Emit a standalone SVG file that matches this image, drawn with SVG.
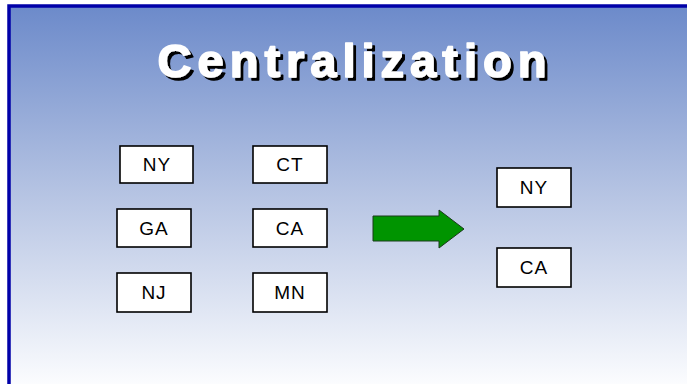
<svg xmlns="http://www.w3.org/2000/svg" width="687" height="384" viewBox="0 0 687 384">
  <defs>
    <linearGradient id="bg" gradientUnits="userSpaceOnUse" x1="0" y1="6" x2="0" y2="384">
      <stop offset="0" stop-color="#6C8ACA"/>
      <stop offset="0.5" stop-color="#B6C4E3"/>
      <stop offset="1" stop-color="#FBFCFE"/>
    </linearGradient>
    <filter id="shadow" x="-5%" y="-20%" width="115%" height="150%">
      <feDropShadow dx="3" dy="3" stdDeviation="0" flood-color="#000000" flood-opacity="1"/>
    </filter>
    <style>
      .box { fill: #FFFFFF; stroke: #000000; stroke-width: 1.6; }
      .lbl { font-family: "Liberation Sans", Arial, sans-serif; font-size: 19px; fill: #000000; text-anchor: middle; letter-spacing: 1px; }
      .title { font-family: "Liberation Sans", Arial, sans-serif; font-size: 47px; font-weight: bold; text-anchor: middle; letter-spacing: 6px; fill: #FFFFFF; stroke: #FFFFFF; stroke-width: 1.6; stroke-linejoin: round; }
    </style>
  </defs>

  <!-- slide background and frame -->
  <rect x="0" y="0" width="687" height="384" fill="#FFFFFF"/>
  <rect x="9" y="6" width="690" height="390" fill="url(#bg)" stroke="#0000A8" stroke-width="3.5"/>

  <!-- title with drop shadow -->
  <g id="title" filter="url(#shadow)">
    <text class="title" x="355" y="77">Centralization</text>
  </g>

  <!-- left column -->
  <g id="ny1"><rect class="box" x="120" y="146" width="73" height="37"/><text class="lbl" x="157" y="171">NY</text></g>
  <g id="ga"><rect class="box" x="117" y="209" width="74" height="38"/><text class="lbl" x="154" y="235">GA</text></g>
  <g id="nj"><rect class="box" x="117" y="273" width="74" height="39"/><text class="lbl" x="154" y="299">NJ</text></g>

  <!-- middle column -->
  <g id="ct"><rect class="box" x="253" y="146" width="74" height="37"/><text class="lbl" x="290" y="171">CT</text></g>
  <g id="ca1"><rect class="box" x="253" y="209" width="74" height="38"/><text class="lbl" x="290" y="235">CA</text></g>
  <g id="mn"><rect class="box" x="253" y="273" width="74" height="39"/><text class="lbl" x="290" y="299">MN</text></g>

  <!-- result column -->
  <g id="ny2"><rect class="box" x="497" y="168" width="74" height="39"/><text class="lbl" x="534" y="194">NY</text></g>
  <g id="ca2"><rect class="box" x="497" y="248" width="74" height="39"/><text class="lbl" x="534" y="274">CA</text></g>

  <!-- block arrow -->
  <g id="connectors">
    <polygon points="373,216 439,216 439,210 464,229 439,248 439,241 373,241" fill="#009400" stroke="#1A3A1A" stroke-width="1"/>
  </g>
</svg>
